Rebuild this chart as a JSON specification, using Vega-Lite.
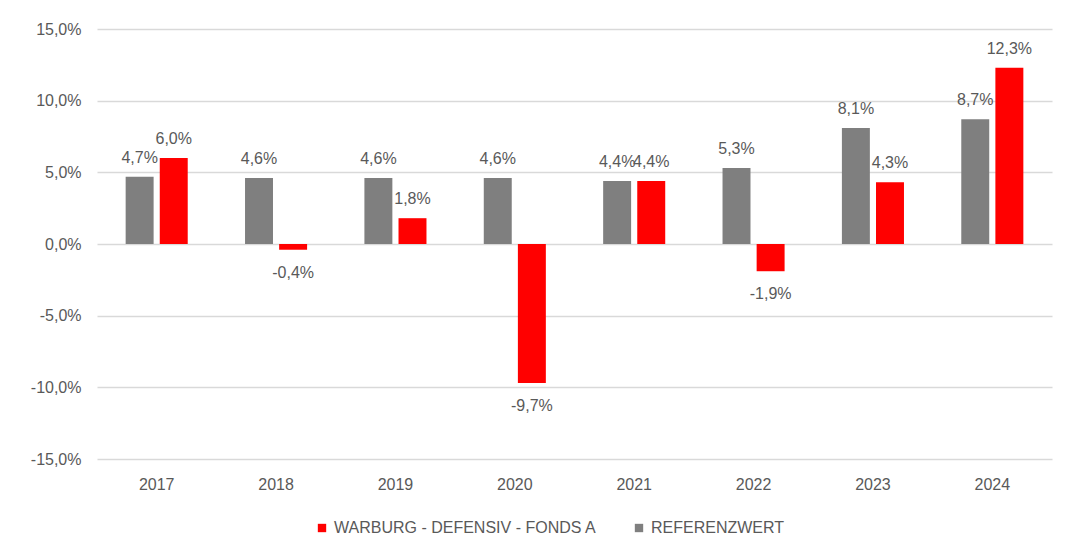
{
  "$schema": "https://vega.github.io/schema/vega-lite/v6.json",
  "width": 955,
  "height": 430,
  "autosize": {"type": "none"},
  "padding": {"left": 97, "top": 29, "right": 29, "bottom": 95},
  "background": "white",
  "config": {
    "locale": {"number": {"decimal": ",", "thousands": ".", "grouping": [3], "currency": ["", " €"], "minus": "-"}},
    "view": {"stroke": null},
    "font": "Liberation Sans",
    "axis": {"labelFont": "Liberation Sans", "labelFontSize": 16, "labelColor": "#595959"},
    "legend": {"labelFont": "Liberation Sans", "labelFontSize": 16, "labelColor": "#595959"}
  },
  "data": {
    "values": [
      {"year": "2017", "series": "REFERENZWERT", "value": 0.047},
      {"year": "2017", "series": "WARBURG - DEFENSIV - FONDS A", "value": 0.060},
      {"year": "2018", "series": "REFERENZWERT", "value": 0.046},
      {"year": "2018", "series": "WARBURG - DEFENSIV - FONDS A", "value": -0.004},
      {"year": "2019", "series": "REFERENZWERT", "value": 0.046},
      {"year": "2019", "series": "WARBURG - DEFENSIV - FONDS A", "value": 0.018},
      {"year": "2020", "series": "REFERENZWERT", "value": 0.046},
      {"year": "2020", "series": "WARBURG - DEFENSIV - FONDS A", "value": -0.097},
      {"year": "2021", "series": "REFERENZWERT", "value": 0.044},
      {"year": "2021", "series": "WARBURG - DEFENSIV - FONDS A", "value": 0.044},
      {"year": "2022", "series": "REFERENZWERT", "value": 0.053},
      {"year": "2022", "series": "WARBURG - DEFENSIV - FONDS A", "value": -0.019},
      {"year": "2023", "series": "REFERENZWERT", "value": 0.081},
      {"year": "2023", "series": "WARBURG - DEFENSIV - FONDS A", "value": 0.043},
      {"year": "2024", "series": "REFERENZWERT", "value": 0.087},
      {"year": "2024", "series": "WARBURG - DEFENSIV - FONDS A", "value": 0.123}
    ]
  },
  "encoding": {
    "x": {
      "field": "year", "type": "nominal", "title": null,
      "scale": {"paddingInner": 0.48, "paddingOuter": 0.24},
      "axis": {"labelAngle": 0, "domain": false, "ticks": false, "grid": false, "labelPadding": 17}
    },
    "xOffset": {
      "field": "series", "type": "nominal",
      "sort": ["REFERENZWERT", "WARBURG - DEFENSIV - FONDS A"],
      "scale": {"paddingInner": 0.18, "paddingOuter": 0}
    },
    "y": {
      "field": "value", "type": "quantitative", "title": null,
      "scale": {"domain": [-0.15, 0.15], "nice": false, "zero": false},
      "axis": {
        "values": [-0.15, -0.1, -0.05, 0, 0.05, 0.1, 0.15],
        "format": ".1%", "domain": false, "ticks": false,
        "gridColor": "#d9d9d9", "gridWidth": 1.5, "labelPadding": 16
      }
    }
  },
  "layer": [
    {
      "mark": {"type": "bar"},
      "encoding": {
        "color": {
          "field": "series", "type": "nominal",
          "scale": {"domain": ["WARBURG - DEFENSIV - FONDS A", "REFERENZWERT"], "range": ["#ff0000", "#7f7f7f"]},
          "legend": {
            "title": null, "orient": "none", "direction": "horizontal",
            "legendX": 217, "legendY": 491,
            "symbolType": "square", "symbolSize": 70, "symbolStrokeWidth": 0,
            "columnPadding": 34, "labelLimit": 400, "labelOffset": 4
          }
        }
      }
    },
    {
      "transform": [{"filter": "datum.value >= 0"}],
      "mark": {"type": "text", "baseline": "bottom", "dy": -11, "fontSize": 16, "color": "#595959"},
      "encoding": {"text": {"field": "value", "type": "quantitative", "format": ".1%"}}
    },
    {
      "transform": [{"filter": "datum.value < 0"}],
      "mark": {"type": "text", "baseline": "top", "dy": 15, "fontSize": 16, "color": "#595959"},
      "encoding": {"text": {"field": "value", "type": "quantitative", "format": ".1%"}}
    }
  ]
}
